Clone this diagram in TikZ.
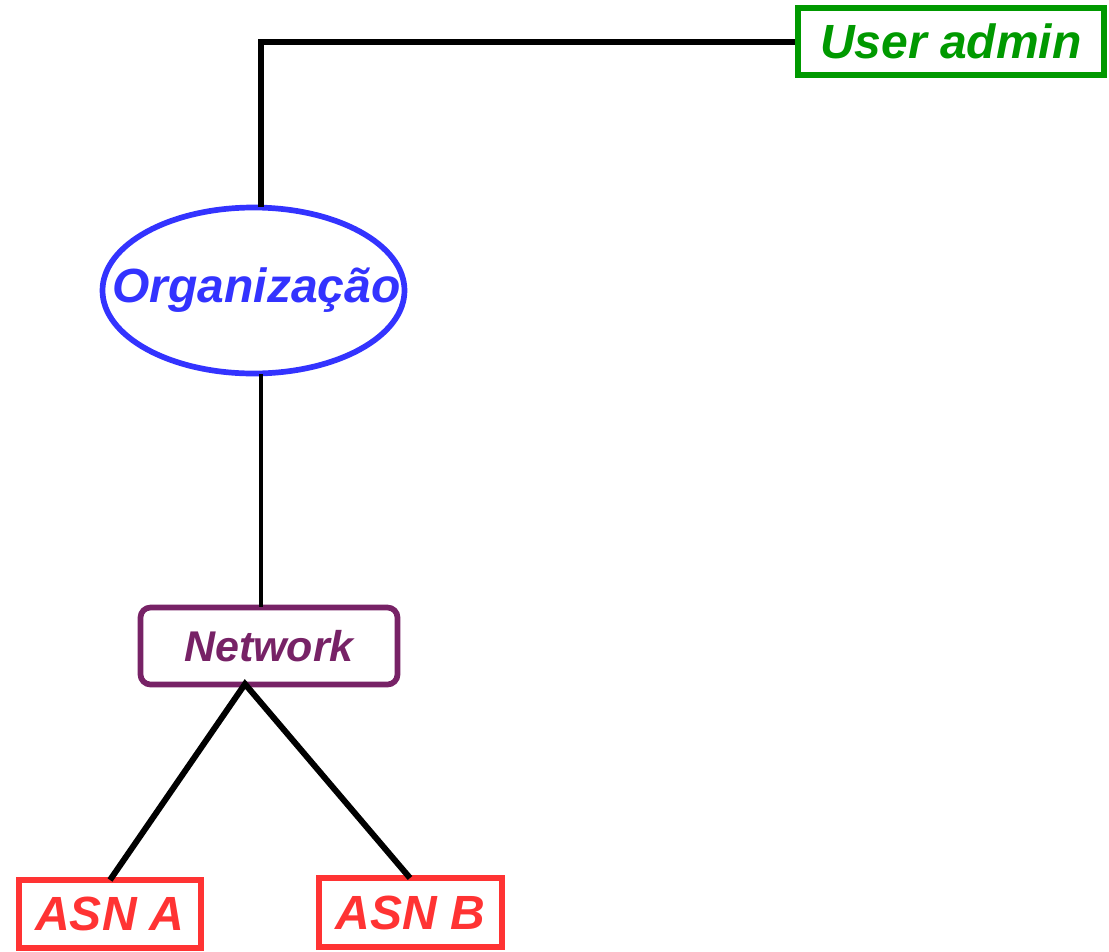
\documentclass[tikz,border=0pt]{standalone}
\usepackage{fontspec}
\setmainfont{Liberation Sans}
\usetikzlibrary{shapes.geometric}
\definecolor{cgreen}{HTML}{009900}
\definecolor{cblue}{HTML}{3333FF}
\definecolor{cpurple}{HTML}{772266}
\definecolor{cred}{HTML}{FF3333}
\tikzset{
  lbl/.style={font=\fontsize{48}{52}\selectfont\bfseries\itshape, inner sep=0pt},
  rbox/.style={draw=cred, line width=6.5pt, text=cred, lbl, minimum width=182pt, minimum height=68pt},
  conn/.style={draw=black, line width=6pt},
}
\begin{document}
\begin{tikzpicture}[x=1pt,y=-1pt]
\useasboundingbox (0,0) rectangle (1109,951);
\node[draw=cgreen, line width=6.5pt, text=cgreen, lbl, minimum width=306pt, minimum height=67pt] (user) at (951,41.5) {User admin};
\node[ellipse, draw=cblue, line width=5.7pt, inner sep=0pt, minimum width=302pt, minimum height=166pt,
      label={[lbl, text=cblue, xshift=3pt]center:Organização}] (org) at (253.5,290.5) {};
\node[draw=cpurple, line width=5.7pt, rounded corners=10pt, text=cpurple, lbl, font=\fontsize{43}{47}\selectfont\bfseries\itshape, minimum width=257pt, minimum height=77pt] (net) at (269,646) {Network};
\node[rbox] (asna) at (110,914) {ASN A};
\node[rbox, minimum width=183pt, minimum height=69pt] (asnb) at (410.5,912.5) {ASN B};
\coordinate (corner) at (261,41.5);
\coordinate (orgtop) at (261,207);
\coordinate (orgbot) at (261,374);
\coordinate (nettop) at (261,607);
\coordinate (netbot) at (245,684);
\coordinate (atop) at (110,880);
\coordinate (btop) at (410,878);
\draw[conn] (user.west) -- (corner) -- (orgtop);
\draw[conn, line width=4pt] (orgbot) -- (nettop);
\draw[conn] (atop) -- (netbot) -- (btop);
\end{tikzpicture}
\end{document}
